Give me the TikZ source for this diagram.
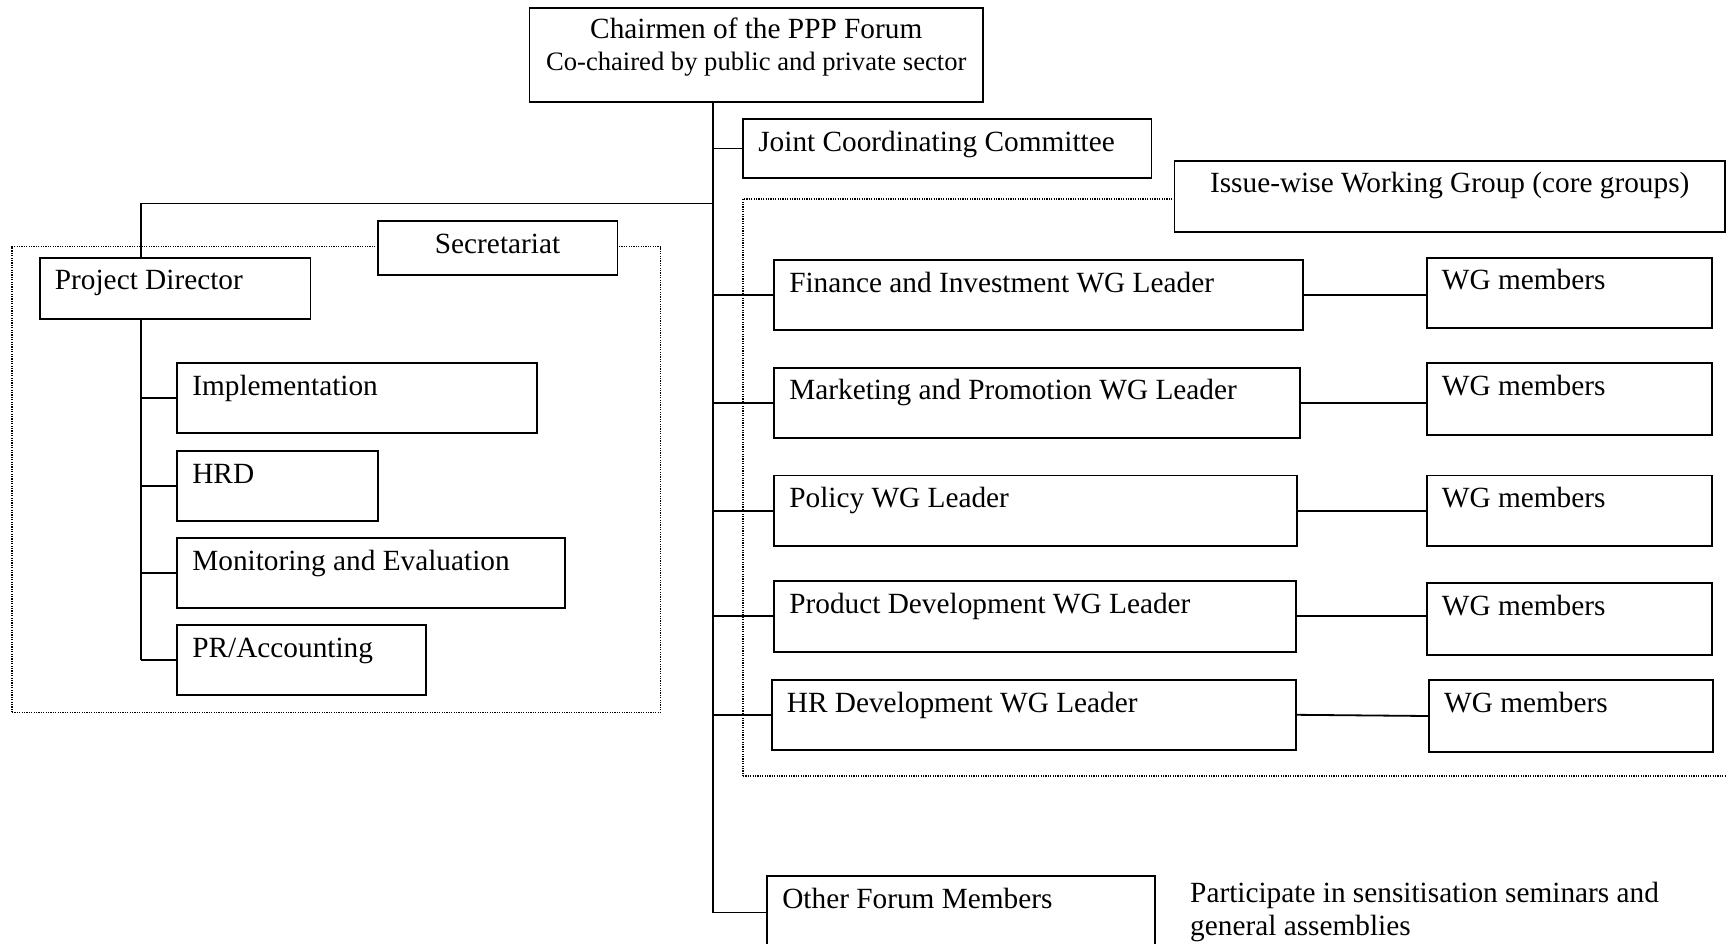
\documentclass[tikz,border=0pt]{standalone}
\usepackage{fontspec}
\setmainfont{Liberation Serif}
\usetikzlibrary{fit}
\newcommand\fs{\fontsize{29.3}{33.7}\selectfont}
\newcommand\fsb{\fontsize{26.6}{31}\selectfont}
\tikzset{
  box/.style={draw, line width=1.8pt, fill=white, inner sep=0pt},
  txt/.style={anchor=base west, inner sep=0pt, xshift=16pt, yshift=-33pt, font=\fs},
  ctxt/.style={anchor=base, inner sep=0pt, yshift=-33pt, font=\fs},
  conn/.style={line width=1.8pt},
  dotline/.style={line width=1.2pt, dash pattern=on 1.2pt off 1.2pt},
}
\newcommand\orgbox[6]{%
  \node[box, fit={(#2,#3)(#4,#5)}] (#1) {};
  \node[txt] (#1t) at (#1.north west) {#6};}
\begin{document}
\begin{tikzpicture}[x=1pt,y=-1pt]
\useasboundingbox (0,0) rectangle (1726,944);
\clip (0,0) rectangle (1726,944);
% dotted groups
\node[dotline, draw, inner sep=0pt, fit={(12,246.6)(660.5,712.2)}] (secgrp) {};
\node[dotline, draw, inner sep=0pt, fit={(743,199)(1760,776)}] (wggrp) {};
% reference coordinates for connector lines
\coordinate (sp) at (713.3,0);
\coordinate (lj) at (141,203.6);
% boxes
\node[box, fit={(529.5,7.7)(983,102.4)}] (chair) {};
\node[anchor=base, inner sep=0pt, font=\fs, yshift=-31.5pt] (chair1) at (chair.north) {Chairmen of the PPP Forum};
\node[anchor=base, inner sep=0pt, font=\fsb, yshift=-63.5pt] (chair2) at (chair.north) {Co-chaired by public and private sector};
\orgbox{jcc}{743}{119}{1151.5}{178}{Joint Coordinating Committee}
\node[box, fit={(1174.5,160.7)(1725,232.3)}] (iwg) {};
\node[ctxt] (iwgt) at (iwg.north) {Issue-wise Working Group (core groups)};
\node[box, fit={(377.6,221)(617.5,275)}] (sec) {};
\node[ctxt] (sect) at (sec.north) {Secretariat};
\orgbox{pd}{39.6}{257.6}{310.4}{319.2}{Project Director}
\orgbox{impl}{177}{363}{537}{432.6}{Implementation}
\orgbox{hrd}{177}{451}{377.6}{520.7}{HRD}
\orgbox{me}{177}{538}{564.7}{607.6}{Monitoring and Evaluation}
\orgbox{pr}{177}{625}{426}{694.6}{PR/Accounting}
\orgbox{fin}{774}{260}{1303}{330}{Finance and Investment WG Leader}
\orgbox{wga}{1426.6}{257.6}{1711.7}{328}{WG members}
\orgbox{mkt}{774}{367.7}{1300}{438}{Marketing and Promotion WG Leader}
\orgbox{wgb}{1426.6}{363}{1711.7}{434.8}{WG members}
\orgbox{pol}{774}{475.5}{1296.7}{546}{Policy WG Leader}
\orgbox{wgc}{1426.6}{475.5}{1711.7}{546}{WG members}
\orgbox{prod}{774}{581}{1295.6}{651.7}{Product Development WG Leader}
\orgbox{wgd}{1426.6}{583}{1711.7}{655}{WG members}
\orgbox{hr}{771.6}{680}{1295.6}{749.6}{HR Development WG Leader}
\orgbox{wge}{1428.8}{680}{1713}{752}{WG members}
\orgbox{ofm}{767}{876}{1155}{949}{Other Forum Members}
\node[anchor=base west, inner sep=0pt, font=\fs] (part1) at (1190,902) {Participate in sensitisation seminars and};
\node[anchor=base west, inner sep=0pt, font=\fs] (part2) at (1190,935.7) {general assemblies};
% connectors
\draw[conn] (chair.south -| sp) -- (ofm.west -| sp) -- (ofm.west);
\draw[conn] (jcc.west -| sp) -- (jcc.west);
\draw[conn] (lj -| sp) -- (lj) -- (lj |- pd.north);
\draw[conn] (pd.south -| lj) -- (pr.west -| lj);
\foreach \b in {impl,hrd,me,pr}{\draw[conn] (\b.west -| lj) -- (\b.west);}
\foreach \b in {fin,mkt,pol,prod,hr}{\draw[conn] (\b.west -| sp) -- (\b.west);}
\draw[conn] (fin.east) -- (fin.east -| wga.west);
\draw[conn] (mkt.east) -- (mkt.east -| wgb.west);
\draw[conn] (pol.east) -- (pol.east -| wgc.west);
\draw[conn] (prod.east) -- (prod.east -| wgd.west);
\draw[conn] (hr.east) -- (wge.west);
\end{tikzpicture}
\end{document}
